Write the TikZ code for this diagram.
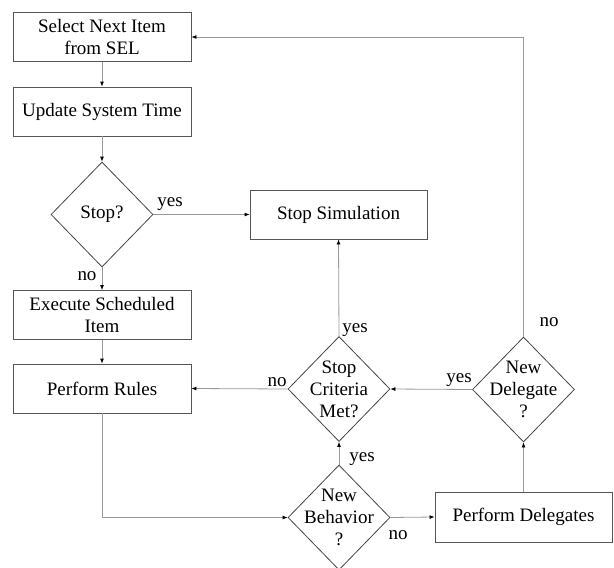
\documentclass[tikz,border=0pt]{standalone}
\usepackage{fontspec}
\setmainfont{Liberation Serif}
\usetikzlibrary{shapes.geometric,arrows.meta}

\definecolor{conncol}{HTML}{9A9A9A}
\definecolor{boxcol}{HTML}{555555}
\definecolor{diacol}{HTML}{444444}

\tikzset{
  x=1pt, y=-1pt,
  every node/.style={font=\fontsize{19}{22}\selectfont, text=black},
  stepbox/.style={draw=boxcol, line width=0.8pt, rectangle, minimum width=178pt,
    minimum height=49pt, inner sep=0pt, align=center},
  decision/.style={draw=diacol, line width=0.8pt, diamond, minimum width=102pt,
    minimum height=105pt, inner sep=0pt},
  dtext/.style={align=center, inner sep=0pt},
  conn/.style={draw=conncol, line width=0.8pt,
    -{Latex[length=5pt,width=4pt,color=black]}},
  lbl/.style={anchor=base, inner sep=0pt},
}

\begin{document}
\begin{tikzpicture}
\useasboundingbox (0,0) rectangle (614,568);

% process boxes
\node[stepbox] (sel) at (102,37) {Select Next Item\\from SEL};
\node[stepbox] (upd) at (102,111.5) {Update System Time};
\node[stepbox] (exec) at (102,315) {Execute Scheduled\\Item};
\node[stepbox] (rules) at (102,388.5) {Perform Rules};
\node[stepbox, minimum width=177pt] (stopsim) at (338.5,214.5) {Stop Simulation};
\node[stepbox, minimum width=177pt, minimum height=50pt] (pdel) at (523.5,517) {Perform Delegates};

% decisions
\node[decision] (stopq) at (102,214.5) {};
\node[dtext] at (stopq) {Stop?};
\node[decision] (crit) at (339,389) {};
\node[dtext] at (crit) {Stop\\Criteria\\Met?};
\node[decision] (nbeh) at (339,517.5) {};
\node[dtext] at (nbeh) {New\\Behavior\\?};
\node[decision] (ndel) at (523.5,389.5) {};
\node[dtext] at (ndel) {New\\Delegate\\?};

% connectors
\draw[conn] (sel) -- (upd);
\draw[conn] (upd) -- (stopq);
\draw[conn] (stopq.east) -- (stopsim.west);
\draw[conn] (stopq.south) -- (exec.north);
\draw[conn] (exec) -- (rules);
\draw[conn] (rules.south) |- (nbeh.west);
\draw[conn] (nbeh.north) -- (crit.south);
\draw[conn] (nbeh.east) -- (pdel.west);
\draw[conn] (pdel.north) -- (ndel.south);
\draw[conn] (ndel.west) -- (crit.east);
\draw[conn] (crit.west) -- (rules.east);
\draw[conn] (crit.north) -- (stopsim.south);
\draw[conn] (ndel.north) |- (sel.east);

% branch labels
\node[lbl] at (170,206) {yes};
\node[lbl] at (87,280) {no};
\node[lbl] at (277,386) {no};
\node[lbl] at (355,332) {yes};
\node[lbl] at (549,326) {no};
\node[lbl] at (459,382) {yes};
\node[lbl] at (362,461) {yes};
\node[lbl] at (398,539) {no};
\end{tikzpicture}
\end{document}
